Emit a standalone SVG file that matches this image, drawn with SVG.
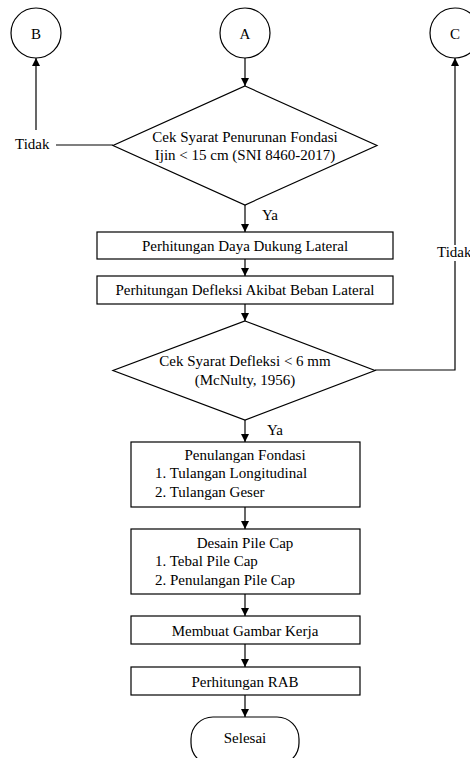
<svg xmlns="http://www.w3.org/2000/svg" width="470" height="758" viewBox="0 0 470 758" font-family="'Liberation Serif', 'Times New Roman', Times, serif" font-size="15">
<defs>
<marker id="ah" viewBox="0 0 10 10" refX="10" refY="5" markerWidth="8" markerHeight="8" markerUnits="userSpaceOnUse" orient="auto">
<path d="M0,0 L10,5 L0,10 Z" fill="#000"/>
</marker>
</defs>
<style>
.s{fill:#fff;stroke:#000;stroke-width:1.2}
.c{fill:none;stroke:#000;stroke-width:1.2}
.t{font-family:'Liberation Serif','Times New Roman',Times,serif;font-size:15px;fill:#000}
.m{text-anchor:middle}
</style>
<rect width="470" height="758" fill="#fff"/>
<g id="connectors">
<line class="c" x1="245" y1="58" x2="245" y2="86" marker-end="url(#ah)"/>
<polyline class="c" points="113,145 56,145"/>
<line class="c" x1="36" y1="130" x2="36" y2="58" marker-end="url(#ah)"/>
<line class="c" x1="245" y1="205" x2="245" y2="232" marker-end="url(#ah)"/>
<line class="c" x1="245" y1="259" x2="245" y2="276" marker-end="url(#ah)"/>
<line class="c" x1="245" y1="304" x2="245" y2="321" marker-end="url(#ah)"/>
<polyline class="c" points="375,370 455,370 455,261"/>
<line class="c" x1="455" y1="245" x2="455" y2="58" marker-end="url(#ah)"/>
<line class="c" x1="245" y1="420" x2="245" y2="442" marker-end="url(#ah)"/>
<line class="c" x1="245" y1="507" x2="245" y2="529" marker-end="url(#ah)"/>
<line class="c" x1="245" y1="594" x2="245" y2="616" marker-end="url(#ah)"/>
<line class="c" x1="245" y1="644" x2="245" y2="667" marker-end="url(#ah)"/>
<line class="c" x1="245" y1="695" x2="245" y2="717" marker-end="url(#ah)"/>
<text class="t" x="15" y="149">Tidak</text>
<text class="t" x="437" y="257">Tidak</text>
<text class="t" x="262" y="220">Ya</text>
<text class="t" x="267" y="435">Ya</text>
</g>
<g id="B"><circle class="s" cx="36" cy="33" r="25"/><text class="t m" x="36" y="38.5">B</text></g>
<g id="A"><circle class="s" cx="245" cy="33" r="25"/><text class="t m" x="245" y="38.5">A</text></g>
<g id="C"><circle class="s" cx="455" cy="33" r="25"/><text class="t m" x="455" y="38.5">C</text></g>
<g id="d1"><polygon class="s" points="245,86 377,145.5 245,205 113,145.5"/>
<text class="t m" x="245" y="142">Cek Syarat Penurunan Fondasi</text>
<text class="t m" x="245" y="160">Ijin &lt; 15 cm (SNI 8460-2017)</text></g>
<g id="p1"><rect class="s" x="97" y="232" width="296" height="27"/><text class="t m" x="245" y="250.5">Perhitungan Daya Dukung Lateral</text></g>
<g id="p2"><rect class="s" x="97" y="276" width="296" height="28"/><text class="t m" x="245" y="295">Perhitungan Defleksi Akibat Beban Lateral</text></g>
<g id="d2"><polygon class="s" points="245,321 375,370.5 245,420 113,370.5"/>
<text class="t m" x="245" y="366">Cek Syarat Defleksi &lt; 6 mm</text>
<text class="t m" x="245" y="385">(McNulty, 1956)</text></g>
<g id="p3"><rect class="s" x="131" y="442" width="229" height="65"/>
<text class="t m" x="245" y="460">Penulangan Fondasi</text>
<text class="t" x="155" y="478">1. Tulangan Longitudinal</text>
<text class="t" x="155" y="497">2. Tulangan Geser</text></g>
<g id="p4"><rect class="s" x="131" y="529" width="229" height="65"/>
<text class="t m" x="245" y="548">Desain Pile Cap</text>
<text class="t" x="155" y="566">1. Tebal Pile Cap</text>
<text class="t" x="155" y="585">2. Penulangan Pile Cap</text></g>
<g id="p5"><rect class="s" x="131" y="616" width="229" height="28"/><text class="t m" x="245" y="636">Membuat Gambar Kerja</text></g>
<g id="p6"><rect class="s" x="131" y="667" width="229" height="28"/><text class="t m" x="245" y="687">Perhitungan RAB</text></g>
<g id="end"><rect class="s" x="191" y="717" width="108" height="48" rx="22" ry="22"/><text class="t m" x="245" y="743">Selesai</text></g>
</svg>
